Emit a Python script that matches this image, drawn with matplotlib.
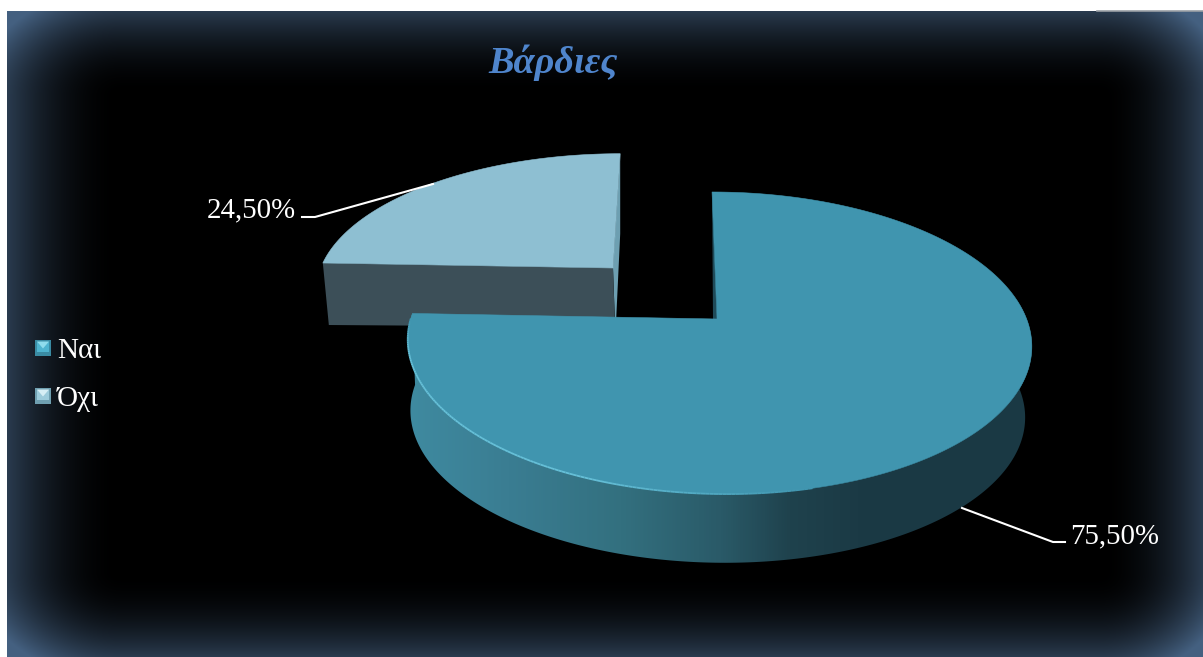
import numpy as np
import matplotlib
matplotlib.use("Agg")
import matplotlib.pyplot as plt
from matplotlib.patches import Polygon, Rectangle
from matplotlib.collections import LineCollection
from matplotlib.colors import LinearSegmentedColormap, to_rgb

plt.rcParams['font.family'] = ['Liberation Serif', 'DejaVu Serif']

title = "Βάρδιες"
categories = ["Ναι", "Όχι"]
values = [75.5, 24.5]
value_labels = ["75,50%", "24,50%"]

W, H = 1203, 657
fig = plt.figure(figsize=(W / 100, H / 100), dpi=100, facecolor="white")
ax = fig.add_axes([0, 0, 1, 1])
ax.set_xlim(0, W)
ax.set_ylim(H, 0)
ax.axis("off")

# ---------- background: black panel with a blue-grey edge glow
L, T = 7, 11
xx, yy = np.meshgrid(np.arange(L, W) + .5, np.arange(T, H) + .5)
def fall(d, w):
    return np.clip(1 - d / w, 0, 1) ** 2
a = fall(xx - L, 115)
b = fall(W - xx, 105)
c = fall(yy - T, 85)
d = fall(H - yy, 85)
edge = np.array([0x44, 0x60, 0x80]) / 255
img = np.clip(0.62 * (a + b + c + d), 0, 1)[..., None] * edge
ax.imshow(img, extent=(L, W, H, T), aspect="auto", zorder=0, interpolation="bilinear")
ax.set_xlim(0, W)
ax.set_ylim(H, 0)
ax.plot([1097, W], [11, 11], color="#9a9fa5", lw=1.2, zorder=1)


# ---------- projected pie geometry
CX, CY, RX, SK, RY, TILT, PV, PU = 716.0, 319.0, 308.0, -4.6, -147.2, 1.0, 0.159, -0.0096

def project(theta):
    """theta: clockwise angle from twelve o'clock, in radians, on the disc rim."""
    u, v = np.sin(theta), np.cos(theta)
    w = 1 + PV * v + PU * u
    return CX + (RX * u + SK * v) / w, CY + (RY * v + TILT * u) / w

def to_rad(share):
    return np.deg2rad(360.0 * share / sum(values))

nai_end = to_rad(values[0])
th_nai = np.linspace(0, nai_end, 400)
x_nai, y_nai = project(th_nai)

# --- Όχι (exploded slice): same projection, scaled and shifted
OX, OY = 613.0, 268.0
SX, SY = 0.957, 0.90
th_oxi = np.linspace(nai_end, nai_end + to_rad(values[1]), 160)
x_o, y_o = project(th_oxi)
x_oxi = OX + (x_o - CX) * SX + 11 * np.cos(th_oxi)
y_oxi = OY + (y_o - CY) * SY
DEPTH_O = 60

ax.add_patch(Polygon([(x_oxi[-1], y_oxi[-1]), (OX, OY), (OX + 2, OY + 55), (OX + 3, OY + 55), (x_oxi[-1], y_oxi[-1] + 80)],
                     closed=True, fc="#6d9fb1", ec="none", zorder=2))
ax.add_patch(Polygon([(x_oxi[0], y_oxi[0]), (OX, OY), (OX + 2, OY + DEPTH_O - 1), (x_oxi[0] + 6, y_oxi[0] + DEPTH_O + 2)],
                     closed=True, fc="#3c4f58", ec="none", zorder=3))
ax.add_patch(Polygon(np.column_stack([np.r_[OX, x_oxi], np.r_[OY, y_oxi]]),
                     closed=True, fc="#8ebfd2", ec="#8ebfd2", lw=0.4, zorder=4))

# --- Ναι: side wall with horizontal shading
SCALE, SHIFT = 0.985, 71.0
th_side = np.linspace(np.pi / 2 - 0.15, nai_end, 400)
xs_t, ys_t = project(th_side)
xs_b = 718 + (xs_t - 720) * SCALE
ys_b = 343 + (ys_t - 343) * SCALE + SHIFT
side = Polygon(np.column_stack([np.r_[xs_t, xs_b[::-1]], np.r_[ys_t, ys_b[::-1]]]),
               closed=True, fc="none", ec="none", zorder=5)
ax.add_patch(side)
cmap = LinearSegmentedColormap.from_list("wall", [
    (0.00, "#3f8aa0"), (0.16, "#3a7d92"), (0.34, "#33707f"),
    (0.50, "#2a5a68"), (0.61, "#1f424d"), (0.72, "#1b3a45"), (1.00, "#1a3944")])
grad = ax.imshow(np.linspace(0, 1, 620)[None, :], cmap=cmap, extent=(408, 1034, 570, 300),
                 aspect="auto", zorder=5, vmin=0, vmax=1)
grad.set_clip_path(side)
ax.set_xlim(0, W)
ax.set_ylim(H, 0)

# back-wall sliver at the upper straight edge
ax.add_patch(Polygon([(x_nai[0], y_nai[0]), (CX + 1, CY + 1), (CX - 3, CY + 1)],
                     closed=True, fc="#1f4a58", ec="none", zorder=5))
# top face
FACE = "#4095af"
ax.add_patch(Polygon(np.column_stack([np.r_[CX + 1, x_nai], np.r_[CY, y_nai]]),
                     closed=True, fc=FACE, ec=FACE, lw=0.4, zorder=6))
# bright rim on the left front edge, fading out at both ends
mask = (th_nai > np.deg2rad(165)) & (th_nai < np.deg2rad(270))
px, py = x_nai[mask], y_nai[mask]
segs = np.stack([np.column_stack([px[:-1], py[:-1]]), np.column_stack([px[1:], py[1:]])], axis=1)
t = np.linspace(0, 1, len(segs))
fade = np.clip(np.minimum(t / 0.35, (1 - t) / 0.12), 0, 1)[:, None]
rim_cols = fade * np.array(to_rgb("#66c0d8")) + (1 - fade) * np.array(to_rgb(FACE))
ax.add_collection(LineCollection(segs, colors=rim_cols, linewidths=1.3, zorder=7))

# ---------- leader lines and value labels
ax.plot([962, 1053, 1065], [508, 542, 542], color="white", lw=1.5, zorder=8)
ax.plot([302, 315, 433], [217, 217, 184], color="white", lw=1.5, zorder=8)
ax.text(1070, 536, value_labels[0], color="white", fontsize=20.8, va="center", ha="left", zorder=9)
ax.text(207, 210, value_labels[1], color="white", fontsize=20.8, va="center", ha="left", zorder=9)

# ---------- title
ax.text(553, 63, title, color="#4f85cc", fontsize=27.5, fontweight="bold", fontstyle="italic",
        ha="center", va="center", zorder=9)

# ---------- legend
legend_styles = [("#3a8ba3", "#4fb4cf", "#8fdcec"), ("#6f9fb0", "#9ccbdb", "#d6eef5")]
for yc, name, (dark, mid, light) in zip([347.5, 395.5], categories, legend_styles):
    x0, x1, y0, y1 = 35, 51, yc - 8, yc + 8
    ax.add_patch(Rectangle((x0, y0), x1 - x0, y1 - y0, fc=dark, ec="none", zorder=8))
    ax.add_patch(Rectangle((x0 + 2, y0 + 2), x1 - x0 - 4, y1 - y0 - 6, fc=mid, ec="none", zorder=8))
    ax.add_patch(Polygon([(x0 + 2, y0 + 2), (x1 - 2, y0 + 2), ((x0 + x1) / 2, yc + 1)],
                         closed=True, fc=light, ec="none", zorder=8))
    ax.text(57, yc + 4, name, color="white", fontsize=21, va="center", ha="left", zorder=9)

fig.savefig("out.png", dpi=100, facecolor="white")
